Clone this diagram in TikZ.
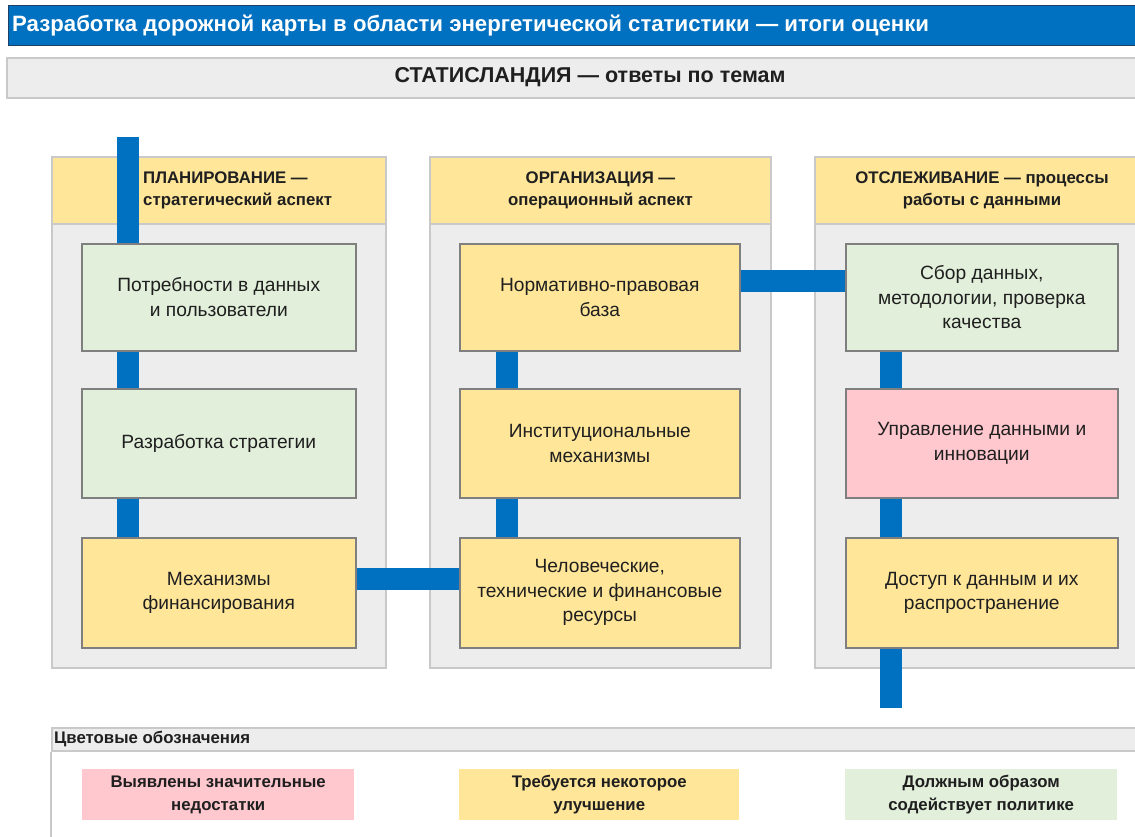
\documentclass[tikz,border=0pt]{standalone}
\usepackage{fontspec}
\setmainfont{Liberation Sans}
\usetikzlibrary{positioning}
\definecolor{ink}{HTML}{1F1F1F}
\definecolor{barblue}{HTML}{0070C0}
\definecolor{bardark}{HTML}{1F3F66}
\definecolor{colgray}{HTML}{EDEDED}
\definecolor{colline}{HTML}{C9C9C9}
\definecolor{boxline}{HTML}{7F7F7F}
\definecolor{softyellow}{HTML}{FFE699}
\definecolor{softgreen}{HTML}{E2EFDA}
\definecolor{softpink}{HTML}{FFC7CE}
\begin{document}
\begin{tikzpicture}[x=1pt,y=-1pt,every node/.style={text=ink,align=center,inner sep=0pt},
column/.style={fill=colgray,draw=colline,line width=2pt,anchor=north west,minimum width=334pt,minimum height=511pt},
colhead/.style={fill=softyellow,draw=colline,line width=2pt,anchor=north west,minimum width=334pt,minimum height=67pt,font=\bfseries\fontsize{16.8}{22}\selectfont},
topic/.style={draw=boxline,line width=1.6pt,anchor=north west,minimum height=107pt,font=\fontsize{19.2}{24.5}\selectfont},
keybox/.style={anchor=north west,minimum width=272pt,minimum height=51pt,font=\bfseries\fontsize{16.8}{23.5}\selectfont},
link/.style={barblue,line width=22pt}]
\useasboundingbox (0,0) rectangle (1135,837);
\fill[white] (0,0) rectangle (1135,837);
% title bars
\node[fill=barblue,draw=bardark,line width=1pt,anchor=north west,minimum width=1140pt,minimum height=40pt] (title) at (8,5){};
\node[anchor=west,text=white,font=\bfseries\fontsize{22.2}{26}\selectfont] at (title.west){\hspace{4pt}Разработка дорожной карты в области энергетической статистики — итоги оценки};
\node[fill=colgray,draw=colline,line width=2pt,anchor=north west,minimum width=1140pt,minimum height=40pt] (country) at (6,57){};
\node[font=\bfseries\fontsize{21.5}{26}\selectfont] at (590,77){СТАТИСЛАНДИЯ — ответы по темам};
% columns
\node[column] (c1) at (51,156){};\node[colhead] (h1) at (51,156){};
\node[column,minimum width=341pt] (c2) at (429,156){};\node[colhead,minimum width=341pt] (h2) at (429,156){ОРГАНИЗАЦИЯ —\\операционный аспект};
\node[column] (c3) at (814,156){};\node[colhead] (h3) at (814,156){ОТСЛЕЖИВАНИЕ — процессы\\работы с данными};
\node[anchor=west,align=left,font=\bfseries\fontsize{16.8}{22}\selectfont] at (143,190){ПЛАНИРОВАНИЕ —\\стратегический аспект};
% topics
\node[topic,fill=softgreen,minimum width=274pt] (p1) at (81,243){Потребности в данных\\и пользователи};
\node[topic,fill=softgreen,minimum width=274pt,minimum height=109pt] (p2) at (81,388){Разработка стратегии};
\node[topic,fill=softyellow,minimum width=274pt,minimum height=110pt] (p3) at (81,537){Механизмы\\финансирования};
\node[topic,fill=softyellow,minimum width=280pt] (o1) at (459,243){Нормативно-правовая\\база};
\node[topic,fill=softyellow,minimum width=280pt,minimum height=109pt] (o2) at (459,388){Институциональные\\механизмы};
\node[topic,fill=softyellow,minimum width=280pt,minimum height=110pt] (o3) at (459,537){Человеческие,\\технические и финансовые\\ресурсы};
\node[topic,fill=softgreen,minimum width=272pt] (m1) at (845,243){Сбор данных,\\методологии, проверка\\качества};
\node[topic,fill=softpink,minimum width=272pt,minimum height=109pt] (m2) at (845,388){Управление данными и\\инновации};
\node[topic,fill=softyellow,minimum width=272pt,minimum height=110pt] (m3) at (845,537){Доступ к данным и их\\распространение};
% links
\coordinate (start) at (128,137);\coordinate (finish) at (891,708);
\draw[link] (start) -- (start |- p1.north);
\draw[link] ([xshift=47pt]p1.south west) -- ([xshift=47pt]p2.north west);\draw[link] ([xshift=47pt]p2.south west) -- ([xshift=47pt]p3.north west);
\draw[link] ([yshift=14pt]p3.east) -- ([yshift=14pt]o3.west);
\draw[link] ([xshift=48pt]o2.south west) -- ([xshift=48pt]o3.north west);\draw[link] ([xshift=48pt]o1.south west) -- ([xshift=48pt]o2.north west);
\draw[link] ([yshift=16pt]o1.east) -- ([yshift=16pt]m1.west);
\draw[link] ([xshift=46pt]m1.south west) -- ([xshift=46pt]m2.north west);\draw[link] ([xshift=46pt]m2.south west) -- ([xshift=46pt]m3.north west);
\draw[link] (finish |- m3.south) -- (finish);
% legend
\node[fill=colgray,draw=colline,line width=2pt,anchor=north west,minimum width=1100pt,minimum height=23pt] (legend) at (51,727){};
\node[anchor=west,font=\bfseries\fontsize{16.8}{20}\selectfont] at ([xshift=3pt]legend.west){Цветовые обозначения};
\draw[colline,line width=2pt] (legend.south west) -- ++(0,90);
\node[keybox,fill=softpink] (k1) at (82,769){Выявлены значительные\\недостатки};
\node[keybox,fill=softyellow,minimum width=280pt] (k2) at (459,769){Требуется некоторое\\улучшение};
\node[keybox,fill=softgreen] (k3) at (845,769){Должным образом\\содействует политике};
\end{tikzpicture}
\end{document}
